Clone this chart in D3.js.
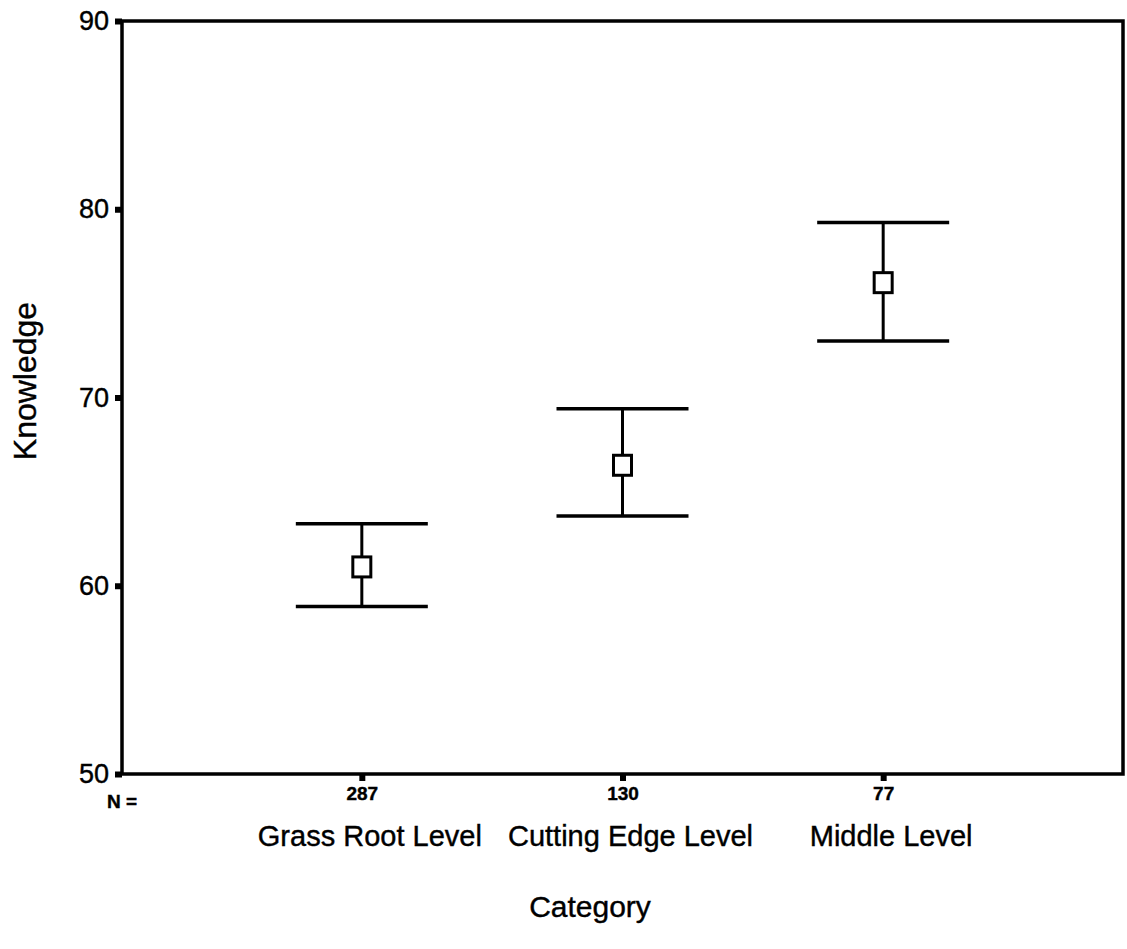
<!DOCTYPE html>
<html>
<head>
<meta charset="utf-8">
<script src="https://cdn.jsdelivr.net/npm/d3@7"></script>
<style>
  body { margin: 0; background: #fff; }
  text { font-family: "Liberation Sans", Arial, sans-serif; fill: #000; stroke: #000; stroke-width: 0.4px; }
</style>
</head>
<body>
<div class="chart"></div>
<script>
// data
const categories = ["Grass Root Level", "Cutting Edge Level", "Middle Level"];
const counts = [287, 130, 77];
const means = [61.0, 66.4, 76.1];
const upper = [63.3, 69.4, 79.3];
const lower = [58.9, 63.7, 73.0];
const yTicks = [50, 60, 70, 80, 90];

const width = 1127, height = 949;
const plotLeft = 122, plotRight = 1123, plotTop = 21, plotBottom = 774;

const svg = d3.select(".chart")
  .append("svg")
  .attr("width", width)
  .attr("height", height);

const x = d3.scaleLinear().domain([0.08, 3.92]).range([plotLeft, plotRight]);
const y = d3.scaleLinear().domain([50, 90]).range([plotBottom, plotTop]);

// frame
svg.append("rect")
  .attr("x", plotLeft).attr("y", plotTop)
  .attr("width", plotRight - plotLeft).attr("height", plotBottom - plotTop)
  .attr("fill", "none").attr("stroke", "#000").attr("stroke-width", 3.5);

// y axis
const yAxis = svg.append("g")
  .attr("transform", "translate(" + plotLeft + ",0)")
  .call(d3.axisLeft(y).tickValues(yTicks).tickSize(7).tickPadding(6));
yAxis.select(".domain").remove();
yAxis.selectAll(".tick line").attr("stroke", "#000").attr("stroke-width", 6);
yAxis.selectAll(".tick text")
  .style("font-size", "27px");

// x axis with category ticks, N labels
const xAxis = svg.append("g")
  .attr("transform", "translate(0," + plotBottom + ")")
  .call(d3.axisBottom(x).tickValues([1, 2, 3]).tickSize(7).tickPadding(6)
    .tickFormat((d, i) => counts[i]));
xAxis.select(".domain").remove();
xAxis.selectAll(".tick line").attr("stroke", "#000").attr("stroke-width", 6);
xAxis.selectAll(".tick text")
  .style("font-size", "19px")
  .style("font-weight", "bold");

svg.append("text")
  .attr("x", 107).attr("y", 808)
  .style("font-size", "19px").style("font-weight", "bold")
  .text("N =");

// category names
svg.selectAll(".cat")
  .data(categories)
  .enter()
  .append("text")
  .attr("class", "cat")
  .attr("x", (d, i) => x(i + 1) + 8)
  .attr("y", 846)
  .attr("text-anchor", "middle")
  .style("font-size", "29px")
  .text(d => d);

// axis titles
svg.append("text")
  .attr("x", 590).attr("y", 917)
  .attr("text-anchor", "middle")
  .style("font-size", "30px")
  .text("Category");

svg.append("text")
  .attr("transform", "translate(36," + 381 + ") rotate(-90)")
  .attr("text-anchor", "middle")
  .style("font-size", "32px")
  .text("Knowledge");

// error bars
const capHalf = 66;
const bars = svg.selectAll(".bar")
  .data(means)
  .enter()
  .append("g")
  .attr("class", "bar");

bars.append("line")
  .attr("x1", (d, i) => x(i + 1)).attr("x2", (d, i) => x(i + 1))
  .attr("y1", (d, i) => y(upper[i])).attr("y2", (d, i) => y(lower[i]))
  .attr("stroke", "#000").attr("stroke-width", 3);

bars.append("line")
  .attr("x1", (d, i) => x(i + 1) - capHalf).attr("x2", (d, i) => x(i + 1) + capHalf)
  .attr("y1", (d, i) => y(upper[i])).attr("y2", (d, i) => y(upper[i]))
  .attr("stroke", "#000").attr("stroke-width", 3.5);

bars.append("line")
  .attr("x1", (d, i) => x(i + 1) - capHalf).attr("x2", (d, i) => x(i + 1) + capHalf)
  .attr("y1", (d, i) => y(lower[i])).attr("y2", (d, i) => y(lower[i]))
  .attr("stroke", "#000").attr("stroke-width", 3.5);

bars.append("rect")
  .attr("x", (d, i) => x(i + 1) - 9)
  .attr("y", d => y(d) - 10)
  .attr("width", 18).attr("height", 20)
  .attr("fill", "#fff").attr("stroke", "#000").attr("stroke-width", 3);
</script>
</body>
</html>
